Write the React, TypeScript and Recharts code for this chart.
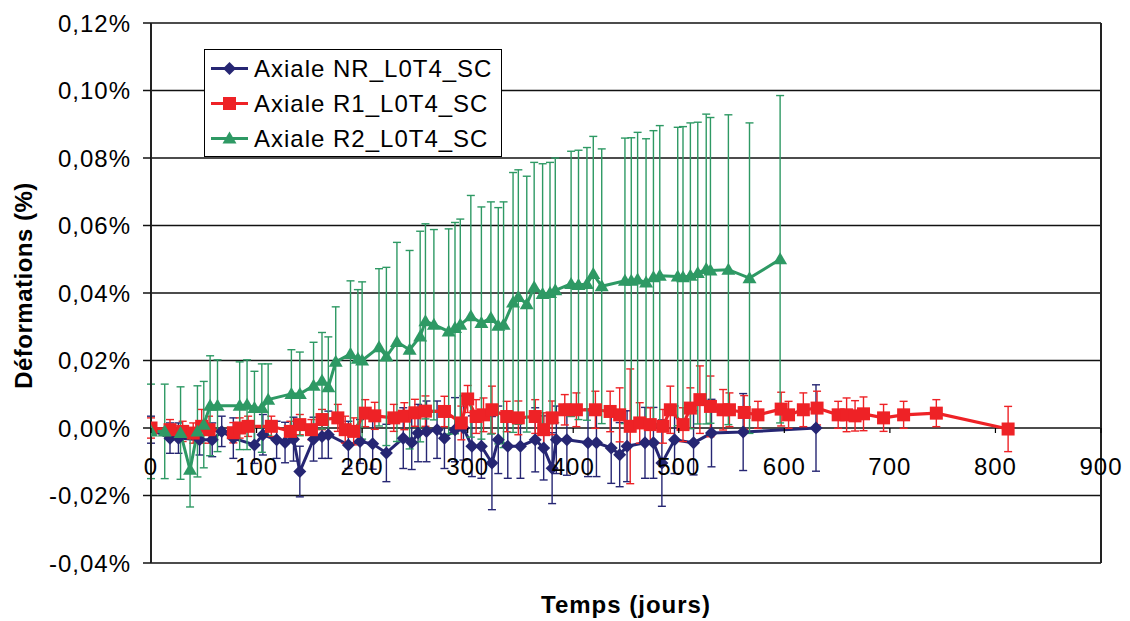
import React from "react";
import {
    ComposedChart,
    Line,
    XAxis,
    YAxis,
    CartesianGrid,
    ErrorBar,
    ReferenceLine,
    Legend,
} from "recharts";

const FONT = "Arial, 'Liberation Sans', sans-serif";

// Axiale NR_L0T4_SC
const nrDays = [0, 18, 26, 46, 58, 67, 78, 98, 106, 119, 127, 135, 141, 154, 162, 168, 187, 198, 210, 223, 239, 247, 253, 261, 271, 278, 288, 296, 304, 313, 323, 329, 338, 350, 364, 372, 380, 384, 394, 414, 422, 436, 444, 451, 468, 476, 484, 496, 514, 531, 561, 630];
const nrValues = [-0.0005, -0.003, -0.003, -0.0035, -0.0035, -0.001, -0.003, -0.005, -0.002, -0.0035, -0.0043, -0.0033, -0.0129, -0.0033, -0.0025, -0.002, -0.005, -0.004, -0.0047, -0.0074, -0.003, -0.0043, -0.0015, -0.001, -0.0005, -0.003, -0.0005, 0.0, -0.0054, -0.0054, -0.0104, -0.0035, -0.0054, -0.0054, -0.0035, -0.0059, -0.0119, -0.0035, -0.0035, -0.0044, -0.0044, -0.0059, -0.0079, -0.0054, -0.0044, -0.0044, -0.0104, -0.0035, -0.0044, -0.0015, -0.0012, 0.0];
const nrErrors = [0.004, 0.0045, 0.0045, 0.0045, 0.005, 0.0045, 0.006, 0.0055, 0.006, 0.0055, 0.006, 0.0065, 0.0075, 0.0065, 0.0065, 0.007, 0.007, 0.0065, 0.0075, 0.0085, 0.009, 0.008, 0.0085, 0.009, 0.0085, 0.009, 0.0095, 0.0095, 0.009, 0.0095, 0.0138, 0.01, 0.0095, 0.0095, 0.0095, 0.0095, 0.0105, 0.01, 0.0105, 0.01, 0.01, 0.0105, 0.0095, 0.0105, 0.0105, 0.0105, 0.0128, 0.01, 0.0095, 0.01, 0.0114, 0.0128];

// Axiale R1_L0T4_SC
const r1Days = [0, 18, 30, 40, 48, 55, 78, 84, 92, 114, 132, 141, 152, 162, 177, 184, 192, 203, 212, 230, 240, 250, 260, 278, 294, 300, 308, 315, 323, 337, 348, 364, 372, 380, 392, 403, 421, 435, 444, 454, 463, 473, 485, 492, 504, 511, 520, 530, 542, 548, 562, 575, 597, 604, 618, 631, 651, 659, 667, 675, 694, 713, 744, 812];
const r1Values = [0.0, -0.0005, -0.001, -0.0015, 0.0005, -0.0005, -0.0014, 0.0, 0.0005, 0.0005, -0.001, 0.001, -0.0005, 0.0025, 0.003, -0.0005, -0.001, 0.0044, 0.0036, 0.003, 0.0035, 0.0045, 0.005, 0.0049, 0.0015, 0.0086, 0.0034, 0.0039, 0.0054, 0.0034, 0.003, 0.0034, -0.0005, 0.003, 0.0054, 0.0054, 0.0054, 0.0049, 0.0039, 0.0005, 0.0015, 0.001, 0.0005, 0.0054, 0.001, 0.0059, 0.0084, 0.0064, 0.0054, 0.0054, 0.0046, 0.0039, 0.0056, 0.0039, 0.0054, 0.0059, 0.0039, 0.0039, 0.0036, 0.0042, 0.003, 0.0039, 0.0044, -0.0003];
const r1Errors = [0.003, 0.003, 0.003, 0.003, 0.005, 0.004, 0.003, 0.003, 0.003, 0.003, 0.003, 0.003, 0.003, 0.003, 0.004, 0.004, 0.004, 0.004, 0.004, 0.004, 0.004, 0.004, 0.0045, 0.0045, 0.005, 0.004, 0.005, 0.005, 0.007, 0.0045, 0.005, 0.005, 0.005, 0.005, 0.0045, 0.005, 0.0055, 0.006, 0.008, 0.017, 0.006, 0.005, 0.005, 0.007, 0.005, 0.006, 0.01, 0.009, 0.006, 0.005, 0.005, 0.004, 0.005, 0.004, 0.005, 0.005, 0.004, 0.005, 0.0045, 0.005, 0.004, 0.004, 0.004, 0.0067];

// Axiale R2_L0T4_SC
const r2Days = [0, 13, 28, 37, 44, 50, 56, 63, 84, 91, 98, 105, 111, 133, 141, 154, 162, 168, 175, 189, 196, 200, 216, 223, 233, 245, 255, 260, 268, 282, 288, 293, 303, 313, 322, 329, 334, 343, 348, 356, 363, 371, 378, 383, 398, 405, 413, 419, 427, 449, 455, 461, 469, 476, 482, 499, 504, 511, 518, 526, 530, 547, 567, 596];
const r2Values = [-0.001, -0.001, -0.0015, -0.0124, -0.001, 0.001, 0.0066, 0.0066, 0.0066, 0.0069, 0.0059, 0.0059, 0.0084, 0.0101, 0.0101, 0.0125, 0.014, 0.0121, 0.0196, 0.0219, 0.0205, 0.02, 0.0239, 0.0212, 0.0255, 0.0232, 0.0271, 0.0316, 0.0306, 0.0286, 0.0296, 0.0306, 0.0331, 0.0311, 0.0326, 0.0303, 0.0306, 0.0372, 0.0388, 0.0367, 0.0417, 0.0397, 0.04, 0.0408, 0.0427, 0.0424, 0.0427, 0.0456, 0.042, 0.0436, 0.0436, 0.044, 0.0431, 0.0447, 0.0451, 0.0449, 0.0447, 0.0451, 0.0459, 0.0471, 0.0467, 0.0469, 0.0444, 0.05];
const r2Errors = [0.014, 0.014, 0.0137, 0.011, 0.0135, 0.0128, 0.0148, 0.0136, 0.013, 0.0133, 0.0109, 0.0131, 0.0106, 0.0131, 0.0124, 0.0129, 0.0143, 0.0149, 0.0163, 0.0217, 0.0205, 0.0233, 0.0233, 0.0264, 0.0295, 0.0294, 0.0312, 0.0289, 0.0282, 0.0304, 0.0313, 0.0313, 0.0358, 0.0344, 0.0344, 0.035, 0.0364, 0.0385, 0.0377, 0.0379, 0.037, 0.0386, 0.0387, 0.0392, 0.0393, 0.0399, 0.0404, 0.0408, 0.0407, 0.0423, 0.0424, 0.0436, 0.0426, 0.0434, 0.0445, 0.0442, 0.0446, 0.0453, 0.0447, 0.0459, 0.0453, 0.0459, 0.046, 0.0485];

const xTicks = [0, 100, 200, 300, 400, 500, 600, 700, 800, 900];
const yTicks = [-0.04, -0.02, 0, 0.02, 0.04, 0.06, 0.08, 0.1, 0.12];

const BLUE = "#262673";
const RED = "#ee2226";
const GREEN = "#2e9964";

const W = 1122;
const H = 613;
const PLOT_TOP = 15;
const PLOT_H = 540;
const Y_MIN = -0.04;
const Y_MAX = 0.12;
const ZERO_Y = PLOT_TOP + (PLOT_H * Y_MAX) / (Y_MAX - Y_MIN);

const build = (days: number[], values: number[], errors: number[]) =>
    days.map((day, i) => ({ day, v: values[i], err: errors[i] }));

const nrData = build(nrDays, nrValues, nrErrors);
const r1Data = build(r1Days, r1Values, r1Errors);
const r2Data = build(r2Days, r2Values, r2Errors);

type MarkerKind = "diamond" | "square" | "triangle";

const marker = (kind: MarkerKind, cx: number, cy: number, color: string, key?: string) => {
    if (kind === "diamond") {
        const r = 6.5;
        return <polygon key={key} points={`${cx},${cy - r} ${cx + r},${cy} ${cx},${cy + r} ${cx - r},${cy}`} fill={color} />;
    }
    if (kind === "square") {
        const s = 6.5;
        return <rect key={key} x={cx - s} y={cy - s} width={s * 2} height={s * 2} fill={color} />;
    }
    return <polygon key={key} points={`${cx},${cy - 7} ${cx + 7},${cy + 5} ${cx - 7},${cy + 5}`} fill={color} />;
};

const dotFor = (kind: MarkerKind, color: string) => (props: any) => {
    const { cx, cy, index } = props;
    if (cx == null || cy == null) return <g key={`e-${kind}-${index}`} />;
    return marker(kind, cx, cy, color, `${kind}-${index}`);
};

const SERIES: { name: string; color: string; kind: MarkerKind }[] = [
    { name: "Axiale NR_L0T4_SC", color: BLUE, kind: "diamond" },
    { name: "Axiale R1_L0T4_SC", color: RED, kind: "square" },
    { name: "Axiale R2_L0T4_SC", color: GREEN, kind: "triangle" },
];

const LegendBox = () => (
    <div
        style={{
            boxSizing: "border-box",
            width: 298,
            height: 108,
            border: "1.5px solid #000",
            background: "#fff",
            paddingTop: 1,
            fontFamily: FONT,
            fontSize: 24,
            letterSpacing: 1,
            color: "#000",
        }}
    >
        {SERIES.map((s) => (
            <div key={s.name} style={{ display: "flex", alignItems: "center", height: 35 }}>
                <svg width={49} height={35} style={{ flex: "none" }}>
                    <line x1={6} x2={43} y1={17.5} y2={17.5} stroke={s.color} strokeWidth={3} />
                    {marker(s.kind, 24.5, 17.5, s.color)}
                </svg>
                <span style={{ lineHeight: "35px", whiteSpace: "nowrap" }}>{s.name}</span>
            </div>
        ))}
    </div>
);

const XTick = ({ x, payload }: any) => (
    <g>
        <line x1={x} x2={x} y1={ZERO_Y} y2={ZERO_Y + 5} stroke="#000" strokeWidth={1.2} />
        <text x={x} y={ZERO_Y + 47} textAnchor="middle" fill="#000" fontSize={24} fontFamily={FONT} letterSpacing={1}>
            {payload.value}
        </text>
    </g>
);

const fmtY = (v: number) => v.toFixed(2).replace(".", ",") + "%";

export default function App() {
    return (
        <div style={{ position: "relative", width: W, height: H, background: "#fff" }}>
            <ComposedChart width={W} height={H} margin={{ top: PLOT_TOP, right: 29, bottom: 28, left: 0 }}>
                <CartesianGrid horizontal vertical={false} stroke="#111" strokeWidth={1.5} />
                <XAxis
                    dataKey="day"
                    type="number"
                    domain={[0, 900]}
                    ticks={xTicks}
                    allowDataOverflow
                    axisLine={false}
                    tickLine={false}
                    tick={<XTick />}
                    height={30}
                />
                <YAxis
                    type="number"
                    domain={[Y_MIN, Y_MAX]}
                    ticks={yTicks}
                    allowDataOverflow
                    width={143}
                    tickFormatter={fmtY}
                    axisLine={{ stroke: "#222", strokeWidth: 2 }}
                    tickLine={{ stroke: "#111", strokeWidth: 1.5 }}
                    tickSize={8}
                    tickMargin={12}
                    tick={{ fill: "#000", fontSize: 24, fontFamily: FONT, letterSpacing: 1 }}
                />
                <ReferenceLine x={900} stroke="#222" strokeWidth={2} />
                <Line
                    data={nrData}
                    dataKey="v"
                    type="linear"
                    stroke={BLUE}
                    strokeWidth={3}
                    dot={dotFor("diamond", BLUE)}
                    activeDot={false}
                    isAnimationActive={false}
                >
                    <ErrorBar dataKey="err" direction="y" width={4} stroke={BLUE} strokeWidth={1.4} isAnimationActive={false} />
                </Line>
                <Line
                    data={r1Data}
                    dataKey="v"
                    type="linear"
                    stroke={RED}
                    strokeWidth={3.2}
                    dot={dotFor("square", RED)}
                    activeDot={false}
                    isAnimationActive={false}
                >
                    <ErrorBar dataKey="err" direction="y" width={4} stroke={RED} strokeWidth={1.4} isAnimationActive={false} />
                </Line>
                <Line
                    data={r2Data}
                    dataKey="v"
                    type="linear"
                    stroke={GREEN}
                    strokeWidth={3}
                    dot={dotFor("triangle", GREEN)}
                    activeDot={false}
                    isAnimationActive={false}
                >
                    <ErrorBar dataKey="err" direction="y" width={4} stroke={GREEN} strokeWidth={1.4} isAnimationActive={false} />
                </Line>
                <Legend
                    layout="horizontal"
                    verticalAlign="middle"
                    align="center"
                    wrapperStyle={{ position: "absolute", left: 196, top: 41, width: 298, height: 108 }}
                    content={() => <LegendBox />}
                />
            </ComposedChart>
            <svg width={W} height={H} style={{ position: "absolute", left: 0, top: 0, pointerEvents: "none" }}>
                <text x={618} y={605} textAnchor="middle" fontSize={24} fontWeight="bold" fontFamily={FONT} letterSpacing={1} fill="#000">
                    Temps (jours)
                </text>
                <text
                    x={0}
                    y={0}
                    transform={`translate(23.5, 277.5) rotate(-90)`}
                    textAnchor="middle"
                    fontSize={24}
                    fontWeight="bold"
                    fontFamily={FONT}
                    letterSpacing={0.5}
                    fill="#000"
                >
                    Déformations (%)
                </text>
            </svg>
        </div>
    );
}
